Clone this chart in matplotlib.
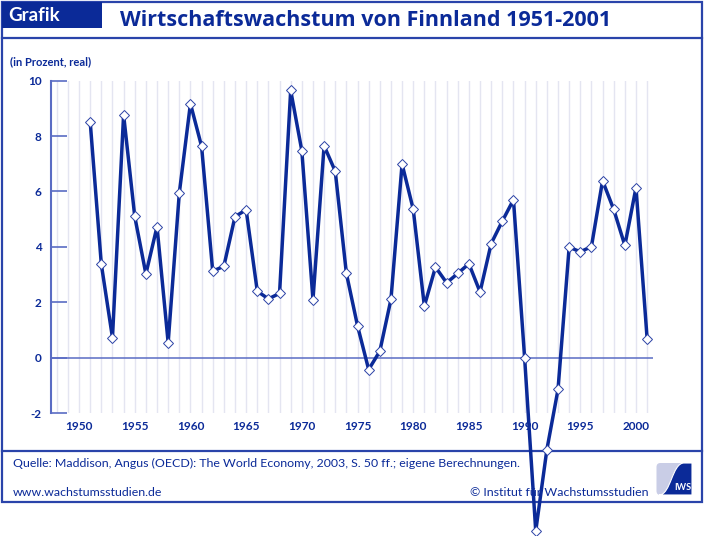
import matplotlib
matplotlib.use("Agg")
import matplotlib.pyplot as plt
from matplotlib.patches import Rectangle, FancyBboxPatch, PathPatch
from matplotlib.path import Path
from matplotlib.lines import Line2D

# ---- data ----
years = list(range(1951, 2002))
growth = [8.52, 3.37, 0.72, 8.77, 5.10, 3.02, 4.73, 0.54, 5.94, 9.17,
          7.63, 3.12, 3.30, 5.09, 5.34, 2.40, 2.12, 2.32, 9.65, 7.47,
          2.09, 7.65, 6.73, 3.04, 1.15, -0.43, 0.23, 2.10, 6.99, 5.36,
          1.86, 3.27, 2.70, 3.04, 3.39, 2.37, 4.12, 4.93, 5.70, 0.00,
          -6.26, -3.32, -1.15, 3.99, 3.82, 4.01, 6.39, 5.35, 4.05, 6.14,
          0.68]
xtick_years = [1950, 1955, 1960, 1965, 1970, 1975, 1980, 1985, 1990, 1995, 2000]
ytick_vals = [-2, 0, 2, 4, 6, 8, 10]
grid_years = list(range(1948, 2002))

title = "Wirtschaftswachstum von Finnland 1951-2001"
tag = "Grafik"
unit_label = "(in Prozent, real)"
source = "Quelle: Maddison, Angus (OECD): The World Economy, 2003, S. 50 ff.; eigene Berechnungen."
website = "www.wachstumsstudien.de"
copyright_txt = "\u00a9 Institut f\u00fcr Wachstumsstudien"

DARK = "#0b2a98"
FRAME = "#2a44aa"
MID = "#5a6cc4"
GRID = "#e4e5f1"

plt.rcParams['font.family'] = ['Lato', 'DejaVu Sans']

W, H = 704, 536
fig = plt.figure(figsize=(W / 100, H / 100), dpi=100)

# overlay axes in pixel coordinates for frame / header / footer
ov = fig.add_axes([0, 0, 1, 1], zorder=0)
ov.set_xlim(0, W)
ov.set_ylim(H, 0)
ov.axis("off")

lw_frame = 1.6
# outer frame
ov.add_patch(Rectangle((2, 2), 700, 500, fill=False, edgecolor=FRAME, lw=lw_frame))
# header box
ov.add_patch(Rectangle((2, 2), 99.5, 26, facecolor=DARK, edgecolor=DARK, lw=0))
ov.add_line(Line2D([2, 702], [37.5, 37.5], color=FRAME, lw=lw_frame))
ov.add_line(Line2D([2, 702], [451, 451], color=FRAME, lw=lw_frame))
ov.text(8, 15.5, tag, color="white", fontsize=13.5, fontweight="bold", va="center", ha="left")
ov.text(120, 20, title, color=DARK, fontsize=15.5, fontweight="bold", va="center", ha="left",
        family=['Open Sans', 'DejaVu Sans'])
ov.text(10, 62, unit_label, color=DARK, fontsize=8, fontweight="bold", va="center", ha="left")

# footer
ov.text(13, 463, source, color=DARK, fontsize=8.9, va="center", ha="left")
ov.text(13, 492, website, color=DARK, fontsize=8.9, va="center", ha="left")
ov.text(649, 492, copyright_txt, color=DARK, fontsize=8.9, va="center", ha="right")

# logo
ov.add_patch(FancyBboxPatch((656.5, 463), 35.5, 32, boxstyle="round,pad=0,rounding_size=4",
                            facecolor="#c9cde6", edgecolor="none"))
verts = [(659, 495), (671, 495), (672, 463), (684, 463), (692, 463), (692, 495), (659, 495)]
codes = [Path.MOVETO, Path.CURVE4, Path.CURVE4, Path.CURVE4, Path.LINETO, Path.LINETO, Path.CLOSEPOLY]
ov.add_patch(PathPatch(Path(verts, codes), facecolor=DARK, edgecolor="white", lw=0.8))
ov.text(683, 488, "IWS", color="white", fontsize=6.5, fontweight="bold", va="center", ha="center")

# main axes
left, right = 51.2, 652.7
top, bottom = 80.7, 413.0
ax = fig.add_axes([left / W, (H - bottom) / H, (right - left) / W, (bottom - top) / H], zorder=1)
ax.set_facecolor("none")
ax.set_xlim(1947.5, 2001.5)
ax.set_ylim(-2, 10)

for gy in grid_years:
    ax.axvline(gy, color=GRID, lw=1, zorder=1)
ax.axhline(0, color=MID, lw=1.1, zorder=2)

ax.plot(years, growth, color=DARK, lw=2.5, marker="D", markersize=5.2,
        markerfacecolor="white", markeredgecolor="#2b42a6", markeredgewidth=0.7,
        clip_on=False, zorder=5)

for s in ["top", "right", "bottom"]:
    ax.spines[s].set_visible(False)
ax.spines["left"].set_color(MID)
ax.spines["left"].set_linewidth(1.5)

ax.set_yticks(ytick_vals)
ax.set_yticklabels([str(v) for v in ytick_vals])
ax.tick_params(axis="y", direction="in", length=11.5, width=1.2, color=MID, pad=7,
               labelsize=8.5, labelcolor=DARK)
ax.set_xticks(xtick_years)
ax.set_xticklabels([str(v) for v in xtick_years])
ax.tick_params(axis="x", length=0, pad=6, labelsize=8.5, labelcolor=DARK)
for lab in ax.get_xticklabels() + ax.get_yticklabels():
    lab.set_fontweight("bold")

fig.savefig("out.png", dpi=100)
